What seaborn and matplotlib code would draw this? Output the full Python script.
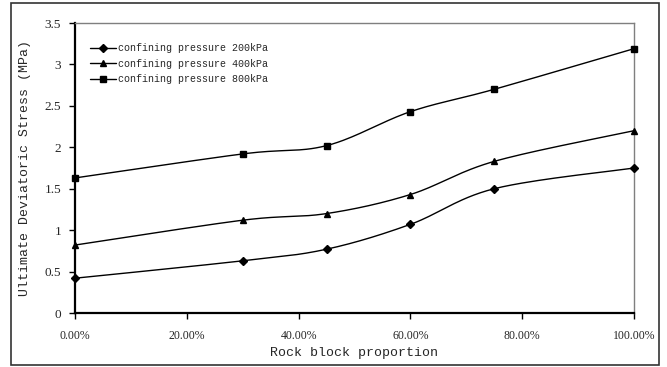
import numpy as np
import pandas as pd
import matplotlib
matplotlib.use("Agg")
import matplotlib.pyplot as plt
from matplotlib.lines import Line2D
from matplotlib.patches import Rectangle
from matplotlib.ticker import FuncFormatter
import seaborn as sns

# ---- data ----
rock_proportion = [0.00, 0.30, 0.45, 0.60, 0.75, 1.00]
stress_200 = [0.42, 0.63, 0.77, 1.07, 1.50, 1.75]
stress_400 = [0.82, 1.12, 1.20, 1.43, 1.83, 2.20]
stress_800 = [1.63, 1.92, 2.02, 2.43, 2.70, 3.19]
series_names = ["confining pressure 200kPa",
                "confining pressure 400kPa",
                "confining pressure 800kPa"]
series_values = [stress_200, stress_400, stress_800]
x_ticks = [0.0, 0.2, 0.4, 0.6, 0.8, 1.0]
y_ticks = [0, 0.5, 1, 1.5, 2, 2.5, 3, 3.5]

sns.set_style("white")
plt.rcParams["font.family"] = ["Liberation Serif", "DejaVu Serif"]

def smooth(xs, ys, n=30):
    """Excel-like smoothed line (Bezier with Catmull-Rom control points)."""
    pts = np.column_stack([xs, ys]).astype(float)
    out = []
    m = len(pts)
    for i in range(m - 1):
        p0 = pts[i - 1] if i > 0 else pts[i]
        p1 = pts[i]
        p2 = pts[i + 1]
        p3 = pts[i + 2] if i + 2 < m else pts[i + 1]
        c1 = p1 + (p2 - p0) / 6.0
        c2 = p2 - (p3 - p1) / 6.0
        t = np.linspace(0, 1, n, endpoint=(i == m - 2))[:, None]
        b = ((1 - t) ** 3) * p1 + 3 * ((1 - t) ** 2) * t * c1 + 3 * (1 - t) * t ** 2 * c2 + t ** 3 * p2
        out.append(b)
    return np.vstack(out)

fig = plt.figure(figsize=(6.67, 3.67), dpi=100)
ax = fig.add_axes([75 / 667, 1 - 313 / 367, (634 - 75) / 667, (313 - 23) / 367])

markers = ["D", "^", "s"]
msizes = [4.0, 5.0, 5.0]
handles = []
for name, vals, mk, ms in zip(series_names, series_values, markers, msizes):
    curve = smooth(rock_proportion, vals)
    cdf = pd.DataFrame({"x": curve[:, 0], "y": curve[:, 1]})
    sns.lineplot(data=cdf, x="x", y="y", sort=False, estimator=None,
                 color="black", linewidth=1.0, ax=ax)
    pdf = pd.DataFrame({"x": rock_proportion, "y": vals})
    ax.plot(pdf["x"], pdf["y"], linestyle="none", marker=mk, markersize=ms,
            color="black", clip_on=False, zorder=5)
    handles.append(Line2D([0], [0], color="black", linewidth=1.0, marker=mk,
                          markersize=ms, label=name))

ax.set_xlim(0, 1)
ax.set_ylim(0, 3.5)
ax.set_xticks(x_ticks)
ax.set_yticks(y_ticks)
ax.xaxis.set_major_formatter(FuncFormatter(lambda v, p: f"{v * 100:.2f}%"))
ax.yaxis.set_major_formatter(FuncFormatter(lambda v, p: f"{v:g}"))
ax.tick_params(axis="both", which="major", direction="out", length=4, width=1,
               labelsize=8.5, color="black", left=True, bottom=True)
ax.tick_params(axis="y", labelsize=9.5, pad=6)
ax.tick_params(axis="x", pad=8)

for s in ["left", "bottom"]:
    ax.spines[s].set_color("black")
    ax.spines[s].set_linewidth(1.6)
for s in ["top", "right"]:
    ax.spines[s].set_color("#7f7f7f")
    ax.spines[s].set_linewidth(1.0)

ax.set_xlabel("Rock block proportion", family=["Liberation Mono", "DejaVu Sans Mono"],
              fontsize=9.5, labelpad=4)
ax.set_ylabel("Ultimate Deviatoric Stress (MPa)", family=["Liberation Mono", "DejaVu Sans Mono"],
              fontsize=9.5, labelpad=10)

leg = ax.legend(handles=handles, loc="upper left", bbox_to_anchor=(0.015, 0.955),
                frameon=False, prop={"family": "Liberation Mono", "size": 7.2},
                handlelength=2.6, handletextpad=0.15, labelspacing=0.55,
                borderaxespad=0.3)

fig.patches.append(Rectangle((11 / 667, 1 - 365 / 367), (659 - 11) / 667, (365 - 3) / 367,
                             transform=fig.transFigure, fill=False,
                             edgecolor="#333333", linewidth=1.2))

fig.savefig("out.png", dpi=100)
